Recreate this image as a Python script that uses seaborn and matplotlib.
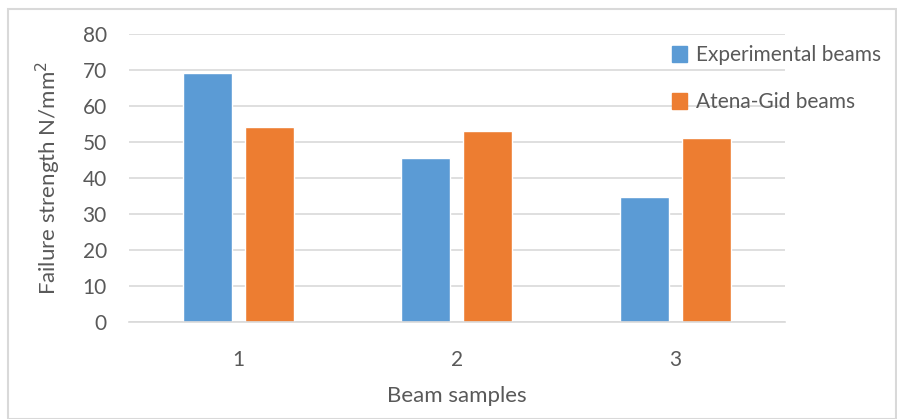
import pandas as pd
import seaborn as sns
import matplotlib.pyplot as plt
from matplotlib.patches import Rectangle

# Chart data
samples = ['1', '2', '3']
series = ['Experimental beams', 'Atena-Gid beams']
experimental = [69.3, 45.6, 34.8]
atena_gid = [54.3, 53.0, 51.2]
y_ticks = [0, 10, 20, 30, 40, 50, 60, 70, 80]

colors = ['#5B9BD5', '#ED7D31']
text_color = '#595959'
grid_color = '#D9D9D9'

df = pd.DataFrame({
    'sample': samples * 2,
    'series': [series[0]] * 3 + [series[1]] * 3,
    'value': experimental + atena_gid,
})

sns.set_style("white")
plt.rcParams['font.family'] = ['Lato', 'DejaVu Sans']

fig = plt.figure(figsize=(8.97, 4.19), dpi=100)
ax = fig.add_axes([0.1438, 0.2315, 0.7313, 0.6874])

sns.barplot(data=df, x='sample', y='value', hue='series', palette=colors,
            width=0.567, gap=0.21, ax=ax, legend=False, saturation=1)

ax.set_ylim(0, 80)
ax.set_xlim(-0.5, 2.5)
ax.set_yticks(y_ticks)
ax.yaxis.grid(True, color=grid_color, linewidth=1.2)
ax.set_axisbelow(True)
for s in ['top', 'right', 'left']:
    ax.spines[s].set_visible(False)
ax.spines['bottom'].set_color(grid_color)
ax.spines['bottom'].set_linewidth(1.2)

ax.tick_params(axis='y', length=0, labelsize=15, labelcolor=text_color, pad=16)
ax.tick_params(axis='x', which='major', length=0, labelsize=15, labelcolor=text_color, pad=20)
ax.set_xticks([-0.5, 0.5, 1.5, 2.5], minor=True)
ax.tick_params(axis='x', which='minor', length=6, color=grid_color, width=1.2)

ax.set_xlabel('Beam samples', fontsize=16, color=text_color, labelpad=12)
ax.set_ylabel('Failure strength N/mm$^2$', fontsize=16, color=text_color, labelpad=14)

handles = [Rectangle((0, 0), 1, 1, color=c) for c in colors]
fig.legend(handles, series, loc='upper left', bbox_to_anchor=(0.728, 0.937),
           frameon=False, fontsize=15, labelcolor=text_color,
           handlelength=0.75, handleheight=0.75, handletextpad=0.4, labelspacing=1.3)

# light outer frame
fig.patches.append(Rectangle((0.009, 0.0), 0.99, 0.978, transform=fig.transFigure,
                             fill=False, edgecolor=grid_color, linewidth=1.5))

fig.savefig('out.png', dpi=100)
